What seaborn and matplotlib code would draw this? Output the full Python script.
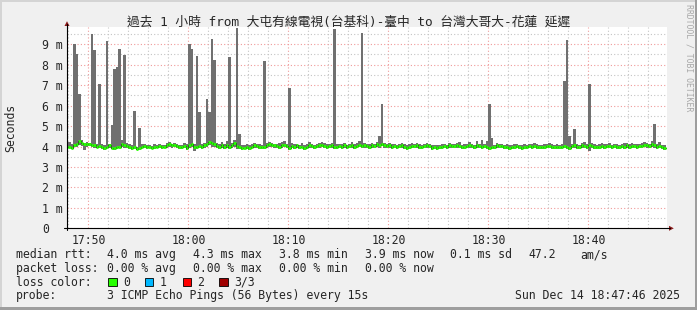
import numpy as np
import pandas as pd
import matplotlib
matplotlib.use("Agg")
import matplotlib.pyplot as plt
import matplotlib.dates as mdates
from matplotlib.patches import Polygon, Rectangle
from matplotlib.lines import Line2D
import seaborn as sns

# ---------------- data ----------------
start_time = "2025-12-14 17:47:45"
step_seconds = 15
view_start = "2025-12-14 17:47:52"
view_end = "2025-12-14 18:47:52"

median_ms = [
    3.98, 4.00, 3.95, 4.05, 4.10, 4.25, 4.15, 4.10, 4.12, 4.10,
    4.08, 4.05, 4.00, 4.02, 4.00, 3.93, 3.98, 4.05, 3.95, 3.92,
    3.97, 4.00, 4.10, 4.05, 4.02, 4.00, 3.95, 3.98, 3.90, 3.93,
    4.00, 4.02, 3.98, 4.00, 3.95, 3.98, 4.00, 4.02, 3.97, 4.00,
    4.05, 4.10, 4.05, 4.08, 4.02, 4.00, 3.98, 4.02, 3.95, 4.05,
    4.12, 4.00, 3.98, 4.02, 3.97, 4.05, 4.10, 4.20, 4.15, 4.10,
    4.02, 3.98, 4.05, 4.00, 4.08, 4.00, 4.05, 4.15, 4.02, 3.98,
    3.95, 3.95, 3.98, 3.95, 4.00, 4.05, 4.02, 4.00, 3.98, 3.97,
    4.05, 4.10, 4.08, 4.05, 4.02, 4.00, 4.05, 4.08, 4.03, 3.95,
    4.02, 4.00, 4.05, 3.98, 4.00, 3.95, 4.00, 4.05, 4.02, 4.00,
    4.03, 4.05, 4.08, 4.03, 4.00, 4.02, 4.05, 4.00, 3.98, 4.02,
    4.00, 4.05, 3.98, 4.02, 4.05, 4.00, 4.03, 4.08, 4.02, 4.05,
    4.03, 4.00, 4.05, 4.02, 4.10, 4.05, 4.12, 4.05, 4.02, 4.05,
    4.00, 4.03, 3.98, 4.02, 4.05, 3.98, 3.95, 4.00, 4.03, 4.02,
    4.05, 4.00, 3.97, 4.02, 4.05, 4.03, 3.95, 3.98, 3.93, 3.97,
    4.00, 4.02, 3.98, 4.05, 4.03, 4.02, 4.05, 4.03, 3.98, 4.00,
    4.03, 4.05, 4.02, 4.00, 4.05, 4.02, 3.98, 4.02, 4.00, 3.95,
    4.00, 3.98, 4.05, 4.02, 4.03, 3.97, 4.00, 3.93, 3.98, 4.00,
    4.02, 3.97, 3.95, 4.00, 3.98, 4.02, 4.00, 4.03, 4.00, 3.98,
    3.97, 4.00, 4.02, 4.03, 4.00, 3.98, 4.00, 3.97, 3.98, 4.02,
    4.00, 3.95, 4.02, 4.05, 4.00, 3.98, 4.05, 4.03, 4.00, 4.05,
    4.03, 4.00, 3.98, 4.00, 4.03, 4.00, 4.02, 4.03, 3.98, 4.02,
    4.00, 3.98, 4.02, 4.00, 4.05, 4.00, 4.02, 4.03, 4.00, 4.02,
    4.03, 4.08, 4.05, 4.02, 4.10, 4.05, 3.98, 4.02, 3.97, 3.95,
]

low_ms = [
    3.92, 3.95, 3.90, 3.98, 4.00, 4.05, 4.02, 3.85, 4.00, 4.02,
    3.98, 3.95, 3.92, 3.95, 3.90, 3.85, 3.92, 3.95, 3.88, 3.85,
    3.90, 3.92, 3.98, 3.95, 3.92, 3.90, 3.85, 3.88, 3.82, 3.85,
    3.92, 3.95, 3.90, 3.92, 3.88, 3.90, 3.92, 3.95, 3.90, 3.92,
    3.95, 3.98, 3.95, 3.98, 3.92, 3.90, 3.90, 3.95, 3.85, 3.95,
    3.98, 3.80, 3.90, 3.95, 3.88, 3.95, 3.98, 4.05, 4.00, 3.98,
    3.92, 3.88, 3.95, 3.90, 3.95, 3.90, 3.95, 4.00, 3.90, 3.88,
    3.85, 3.88, 3.90, 3.85, 3.92, 3.95, 3.92, 3.90, 3.90, 3.88,
    3.95, 4.00, 3.98, 3.95, 3.92, 3.90, 3.95, 3.98, 3.95, 3.85,
    3.92, 3.90, 3.95, 3.88, 3.92, 3.85, 3.90, 3.95, 3.92, 3.90,
    3.95, 3.95, 3.98, 3.92, 3.90, 3.92, 3.95, 3.90, 3.88, 3.92,
    3.90, 3.95, 3.90, 3.92, 3.95, 3.90, 3.95, 3.98, 3.92, 3.95,
    3.95, 3.90, 3.95, 3.92, 4.00, 3.95, 4.02, 3.95, 3.92, 3.95,
    3.90, 3.95, 3.88, 3.92, 3.95, 3.88, 3.85, 3.90, 3.95, 3.92,
    3.95, 3.90, 3.88, 3.92, 3.95, 3.92, 3.85, 3.88, 3.82, 3.88,
    3.90, 3.92, 3.88, 3.95, 3.92, 3.92, 3.95, 3.92, 3.88, 3.90,
    3.92, 3.95, 3.92, 3.90, 3.95, 3.92, 3.88, 3.92, 3.90, 3.85,
    3.90, 3.88, 3.95, 3.92, 3.92, 3.88, 3.90, 3.85, 3.88, 3.90,
    3.92, 3.88, 3.85, 3.90, 3.88, 3.92, 3.90, 3.92, 3.90, 3.88,
    3.88, 3.90, 3.92, 3.95, 3.90, 3.88, 3.90, 3.88, 3.88, 3.92,
    3.90, 3.85, 3.92, 3.95, 3.90, 3.88, 3.95, 3.92, 3.90, 3.80,
    3.95, 3.90, 3.88, 3.90, 3.92, 3.90, 3.92, 3.95, 3.88, 3.92,
    3.90, 3.88, 3.92, 3.90, 3.95, 3.90, 3.92, 3.92, 3.90, 3.92,
    3.95, 3.98, 3.95, 3.92, 4.00, 3.95, 3.88, 3.92, 3.88, 3.85,
]

high_ms = [
    4.67, 4.22, 4.10, 9.00, 8.53, 6.57, 4.30, 4.18, 4.20, 4.15,
    9.50, 8.73, 4.12, 7.06, 4.10, 4.05, 9.18, 4.12, 5.05, 7.78,
    7.90, 8.77, 4.30, 8.48, 4.15, 4.10, 4.05, 5.73, 4.00, 4.90,
    4.10, 4.12, 4.08, 4.05, 4.02, 4.10, 4.08, 4.12, 4.05, 4.08,
    4.15, 4.20, 4.12, 4.15, 4.10, 4.08, 4.05, 4.15, 4.10, 9.00,
    8.78, 4.12, 8.43, 5.70, 4.10, 4.15, 6.32, 5.70, 9.27, 8.25,
    4.15, 4.10, 4.20, 4.12, 4.25, 8.40, 4.15, 4.30, 9.80, 4.60,
    4.05, 4.08, 4.10, 4.05, 4.12, 4.15, 4.12, 4.10, 4.08, 8.20,
    4.18, 4.20, 4.15, 4.12, 4.10, 4.15, 4.20, 4.25, 4.12, 6.88,
    4.15, 4.10, 4.12, 4.08, 4.15, 4.05, 4.10, 4.20, 4.12, 4.08,
    4.12, 4.18, 4.20, 4.15, 4.10, 4.12, 4.18, 9.75, 4.10, 4.12,
    4.10, 4.15, 4.08, 4.12, 4.20, 4.10, 4.15, 4.25, 9.57, 4.15,
    4.12, 4.10, 4.15, 4.12, 4.22, 4.50, 6.08, 4.18, 4.12, 4.15,
    4.10, 4.12, 4.08, 4.12, 4.15, 4.10, 4.05, 4.10, 4.15, 4.12,
    4.15, 4.10, 4.08, 4.12, 4.15, 4.12, 4.05, 4.08, 4.05, 4.08,
    4.10, 4.12, 4.08, 4.15, 4.12, 4.10, 4.15, 4.20, 4.08, 4.10,
    4.12, 4.20, 4.10, 4.08, 4.25, 4.12, 4.30, 4.12, 4.25, 6.08,
    4.40, 4.08, 4.15, 4.12, 4.12, 4.08, 4.10, 4.05, 4.08, 4.10,
    4.12, 4.08, 4.05, 4.10, 4.08, 4.12, 4.10, 4.15, 4.10, 4.08,
    4.08, 4.10, 4.12, 4.15, 4.10, 4.08, 4.10, 4.08, 4.12, 7.20,
    9.20, 4.50, 4.12, 4.85, 4.10, 4.08, 4.15, 4.20, 4.10, 7.06,
    4.18, 4.10, 4.08, 4.12, 4.15, 4.10, 4.12, 4.15, 4.08, 4.12,
    4.10, 4.08, 4.12, 4.15, 4.18, 4.10, 4.15, 4.12, 4.10, 4.12,
    4.15, 4.20, 4.15, 4.12, 4.25, 5.10, 4.10, 4.20, 4.08, 4.05,
]

y_ticks = [0, 1, 2, 3, 4, 5, 6, 7, 8, 9]
y_tick_labels = ["0", "1 m", "2 m", "3 m", "4 m", "5 m", "6 m", "7 m", "8 m", "9 m"]

title_text = "過去 1 小時 from 大屯有線電視(台基科)-臺中 to 台灣大哥大-花蓮 延遲"
y_label = "Seconds"
watermark = "RRDTOOL / TOBI OETIKER"

rtt_fields = ["median rtt:", "4.0 ms avg", "4.3 ms max", "3.8 ms min", "3.9 ms now", "0.1 ms sd", "47.2", "am/s"]
loss_fields = ["packet loss:", "0.00 % avg", "0.00 % max", "0.00 % min", "0.00 % now"]
loss_color_title = "loss color:"
loss_color_labels = ["0", "1", "2", "3/3"]
loss_color_values = ["#26ff00", "#00b8ff", "#ff0000", "#a00000"]
probe_fields = ["probe:", "3 ICMP Echo Pings (56 Bytes) every 15s"]
stamp_text = "Sun Dec 14 18:47:46 2025"

# ---------------- style ----------------
sns.set_style("white")
MONO = "DejaVu Sans Mono"
plt.rcParams["font.family"] = [MONO, "Noto Sans CJK TC"]
FS = 8.3

W, H = 697, 310
def fx(x):
    return x / W
def fy(y):
    return 1 - y / H

BACK = "#f0f0f0"
fig = plt.figure(figsize=(W / 100, H / 100), dpi=100, facecolor=BACK)

# frame shading
fig.add_artist(Rectangle((0, fy(2)), 1, 2 / H, transform=fig.transFigure, facecolor="#d4d4d4", edgecolor="none"))
fig.add_artist(Rectangle((0, 0), 2 / W, 1, transform=fig.transFigure, facecolor="#d4d4d4", edgecolor="none"))
fig.add_artist(Rectangle((0, 0), 1, 3 / H, transform=fig.transFigure, facecolor="#9e9e9e", edgecolor="none"))
fig.add_artist(Rectangle((fx(695), 0), 2 / W, 1, transform=fig.transFigure, facecolor="#9e9e9e", edgecolor="none"))

ax_left, ax_right, ax_top, ax_bottom = 67, 667, 27.3, 228.3
ax = fig.add_axes([fx(ax_left), fy(ax_bottom), (ax_right - ax_left) / W, (ax_bottom - ax_top) / H])
ax.set_facecolor("white")
for s in ax.spines.values():
    s.set_visible(False)

# ---------------- data frame ----------------
times = pd.date_range(start_time, periods=len(median_ms), freq=f"{step_seconds}s")
x_left = mdates.date2num(times.to_pydatetime())
step_days = step_seconds / 86400.0
df = pd.DataFrame({"t": x_left, "median": median_ms, "low": low_ms, "high": high_ms})

# smoke (min..max of the pings)
ax.bar(df["t"], df["high"] - df["low"], bottom=df["low"], width=step_days, align="edge",
       color="#707070", linewidth=0, zorder=2)

# median: dark step connector + green loss-coloured segments
step_df = pd.DataFrame({"t": np.append(df["t"].values, df["t"].values[-1] + step_days),
                        "median": np.append(df["median"].values, df["median"].values[-1])})
sns.lineplot(data=step_df, x="t", y="median", drawstyle="steps-post", color="#111111",
             linewidth=0.7, estimator=None, sort=False, ax=ax, zorder=3)
ax.hlines(df["median"], df["t"], df["t"] + step_days, colors=loss_color_values[0],
          linewidth=2.0, zorder=4)

ax.set_xlim(mdates.date2num(pd.Timestamp(view_start).to_pydatetime()),
            mdates.date2num(pd.Timestamp(view_end).to_pydatetime()))
ax.set_ylim(0, 9.83)
ax.set_xlabel("")
ax.set_ylabel("")

# grid
ax.set_yticks(y_ticks)
ax.set_yticklabels(y_tick_labels)
ax.set_yticks(np.arange(0.5, 10.0, 0.5), minor=True)
ax.xaxis.set_major_locator(mdates.MinuteLocator(byminute=range(0, 60, 10)))
ax.xaxis.set_minor_locator(mdates.MinuteLocator(byminute=range(0, 60, 2)))
ax.xaxis.set_major_formatter(mdates.DateFormatter("%H:%M"))
ax.set_axisbelow(True)
ax.grid(True, which="major", color="#f09a9a", linestyle=(0, (1, 2)), linewidth=0.8)
ax.grid(True, which="minor", color="#c4c4c4", linestyle=(0, (1, 2)), linewidth=0.8)

ax.tick_params(axis="y", which="major", length=3, width=0.8, color="#b0b0b0", pad=15.1, labelsize=FS)
ax.tick_params(axis="y", which="minor", length=0)
ax.tick_params(axis="x", which="major", length=0, pad=4.2, labelsize=FS)
ax.tick_params(axis="x", which="minor", length=0)
for lab in ax.get_yticklabels():
    lab.set_horizontalalignment("left")
    lab.set_family(MONO)
for lab in ax.get_xticklabels():
    lab.set_family(MONO)

# axes lines and arrows
fig.add_artist(Line2D([fx(ax_left), fx(ax_left)], [fy(ax_bottom + 2), fy(24)], transform=fig.transFigure,
                      color="black", linewidth=0.8))
fig.add_artist(Line2D([fx(ax_left - 3), fx(670)], [fy(ax_bottom), fy(ax_bottom)], transform=fig.transFigure,
                      color="black", linewidth=0.8))
fig.add_artist(Polygon([(fx(64.5), fy(26)), (fx(69.5), fy(26)), (fx(67), fy(21.2))], closed=True,
                       transform=fig.transFigure, facecolor="#8b1a1a", edgecolor="none"))
fig.add_artist(Polygon([(fx(669), fy(225.8)), (fx(669), fy(230.8)), (fx(673.8), fy(228.3))], closed=True,
                       transform=fig.transFigure, facecolor="#8b1a1a", edgecolor="none"))

# title, axis label, watermark
fig.text(0.5, fy(25.7), title_text, ha="center", va="baseline", fontsize=9.2,
         family=[MONO, "Noto Sans CJK TC"])
fig.text(fx(11), fy(128), y_label, rotation=90, ha="center", va="center", fontsize=FS, family=MONO)
fig.text(fx(688.5), fy(4), watermark, rotation=270, ha="center", va="top", fontsize=5.9,
         family=MONO, color="#a8a8a8")

# legend block
rtt_x = [16, 107.3, 193.3, 279.3, 365.3, 449.5, 528.0, 580.0]
for txt, x in zip(rtt_fields, rtt_x):
    fig.text(fx(x), fy(258.3), txt, ha="left", va="baseline", fontsize=FS, family=MONO)
loss_x = [16, 107.3, 193.3, 279.3, 365.3]
for txt, x in zip(loss_fields, loss_x):
    fig.text(fx(x), fy(271.7), txt, ha="left", va="baseline", fontsize=FS, family=MONO)
fig.text(fx(16), fy(285.7), loss_color_title, ha="left", va="baseline", fontsize=FS, family=MONO)
sq_x = [108.3, 145.0, 182.7, 219.3]
lab_x = [123.3, 160.0, 197.3, 234.3]
for lab, col, sx, lx in zip(loss_color_labels, loss_color_values, sq_x, lab_x):
    fig.add_artist(Rectangle((fx(sx), fy(285.7)), 8.4 / W, 8 / H, transform=fig.transFigure,
                             facecolor=col, edgecolor="black", linewidth=0.6))
    fig.text(fx(lx), fy(285.7), lab, ha="left", va="baseline", fontsize=FS, family=MONO)
fig.text(fx(16), fy(299.3), probe_fields[0], ha="left", va="baseline", fontsize=FS, family=MONO)
fig.text(fx(107.3), fy(299.3), probe_fields[1], ha="left", va="baseline", fontsize=FS, family=MONO)
fig.text(fx(680), fy(299.3), stamp_text, ha="right", va="baseline", fontsize=FS, family=MONO)

fig.savefig("out.png", dpi=100, facecolor=BACK)
